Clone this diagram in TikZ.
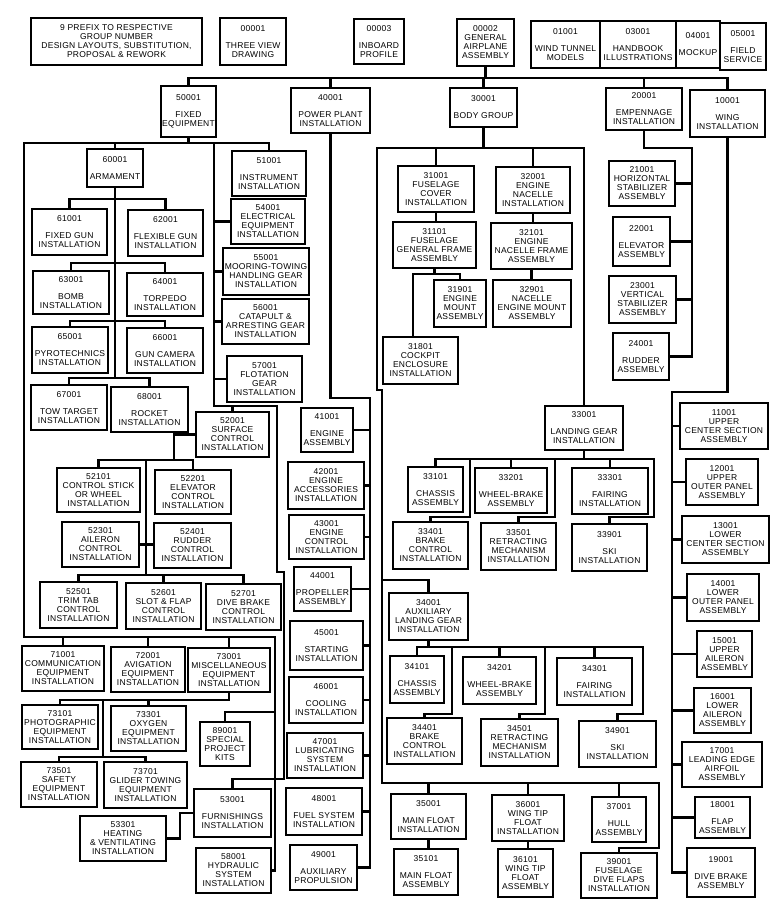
\documentclass[tikz,border=0pt]{standalone}
\usepackage{fontspec}
\setmainfont{Liberation Sans}[LetterSpace=3]
\usetikzlibrary{positioning,calc}

\begin{document}
\begin{tikzpicture}[x=1pt,y=-1pt,
	box/.style 2 args={draw, line width=1.1pt, fill=white, inner sep=1pt, align=center, minimum width=#1pt, minimum height=#2pt, font=\fontsize{8.5}{9}\selectfont},
	link/.style={line width=2.8pt, line join=miter}]
				\path[use as bounding box, fill=white] (0,0) rectangle (781,905);
				\node[box={171}{47}] (prefix) at (116.5,41.5) {9 PREFIX TO RESPECTIVE\\GROUP NUMBER\\DESIGN LAYOUTS, SUBSTITUTION,\\PROPOSAL \& REWORK};
				\node[box={66}{47}] (n00001) at (253,41.5) {00001\\[8pt]THREE VIEW\\DRAWING};
				\node[box={50}{45}] (n00003) at (379,41.5) {00003\\[8pt]INBOARD\\PROFILE};
				\node[box={57}{47}] (n00002) at (485.5,42.5) {00002\\GENERAL\\AIRPLANE\\ASSEMBLY};
				\node[box={69}{47}] (n01001) at (565.5,44.5) {01001\\[8pt]WIND TUNNEL\\MODELS};
				\node[box={76}{47}] (n03001) at (638,44.5) {03001\\[8pt]HANDBOOK\\ILLUSTRATIONS};
				\node[box={44}{47}] (n04001) at (698,44.5) {04001\\[8pt]MOCKUP};
				\node[box={46}{47}] (n05001) at (743,46.5) {05001\\[8pt]FIELD\\SERVICE};
				\node[box={55}{51}] (n50001) at (188.5,111.5) {50001\\[8pt]FIXED\\EQUIPMENT};
				\node[box={79}{45}] (n40001) at (330.5,110.5) {40001\\[8pt]POWER PLANT\\INSTALLATION};
				\node[box={67}{39}] (n30001) at (483.5,107.5) {30001\\[8pt]BODY GROUP};
				\node[box={76}{42}] (n20001) at (644,109) {20001\\[8pt]EMPENNAGE\\INSTALLATION};
				\node[box={75}{47}] (n10001) at (727.5,113.5) {10001\\[8pt]WING\\INSTALLATION};
				\node[box={56}{38}] (n60001) at (115,168) {60001\\[8pt]ARMAMENT};
				\node[box={75}{46}] (n61001) at (69.5,232) {61001\\[8pt]FIXED GUN\\INSTALLATION};
				\node[box={75}{46}] (n62001) at (165.5,233) {62001\\[8pt]FLEXIBLE GUN\\INSTALLATION};
				\node[box={76}{43}] (n63001) at (71,292.5) {63001\\[8pt]BOMB\\INSTALLATION};
				\node[box={76}{43}] (n64001) at (165,294.5) {64001\\[8pt]TORPEDO\\INSTALLATION};
				\node[box={76}{46}] (n65001) at (70,350) {65001\\[8pt]PYROTECHNICS\\INSTALLATION};
				\node[box={76}{45}] (n66001) at (165,350.5) {66001\\[8pt]GUN CAMERA\\INSTALLATION};
				\node[box={76}{45}] (n67001) at (69,407.5) {67001\\[8pt]TOW TARGET\\INSTALLATION};
				\node[box={77}{45}] (n68001) at (149.5,409.5) {68001\\[8pt]ROCKET\\INSTALLATION};
				\node[box={74}{45}] (n51001) at (269,173.5) {51001\\[8pt]INSTRUMENT\\INSTALLATION};
				\node[box={74}{45}] (n54001) at (268,221.5) {54001\\ELECTRICAL\\EQUIPMENT\\INSTALLATION};
				\node[box={86}{47}] (n55001) at (266,271.5) {55001\\MOORING-TOWING\\HANDLING GEAR\\INSTALLATION};
				\node[box={87}{45}] (n56001) at (265.5,321.5) {56001\\CATAPULT \&\\ARRESTING GEAR\\INSTALLATION};
				\node[box={75}{46}] (n57001) at (264.5,379) {57001\\FLOTATION\\GEAR\\INSTALLATION};
				\node[box={73}{45}] (n52001) at (232.5,434.5) {52001\\SURFACE\\CONTROL\\INSTALLATION};
				\node[box={83}{44}] (n52101) at (98.5,490) {52101\\CONTROL STICK\\OR WHEEL\\INSTALLATION};
				\node[box={76}{44}] (n52201) at (193,492) {52201\\ELEVATOR\\CONTROL\\INSTALLATION};
				\node[box={77}{45}] (n52301) at (100.5,544.5) {52301\\AILERON\\CONTROL\\INSTALLATION};
				\node[box={77}{45}] (n52401) at (192.5,545.5) {52401\\RUDDER\\CONTROL\\INSTALLATION};
				\node[box={77}{46}] (n52501) at (78.5,605) {52501\\TRIM TAB\\CONTROL\\INSTALLATION};
				\node[box={75}{46}] (n52601) at (163.5,606) {52601\\SLOT \& FLAP\\CONTROL\\INSTALLATION};
				\node[box={75}{46}] (n52701) at (243.5,607) {52701\\DIVE BRAKE\\CONTROL\\INSTALLATION};
				\node[box={82}{45}] (n71001) at (63,668.5) {71001\\COMMUNICATION\\EQUIPMENT\\INSTALLATION};
				\node[box={74}{45}] (n72001) at (148,669.5) {72001\\AVIGATION\\EQUIPMENT\\INSTALLATION};
				\node[box={82}{44}] (n73001) at (229,670) {73001\\MISCELLANEOUS\\EQUIPMENT\\INSTALLATION};
				\node[box={76}{44}] (n73101) at (60,727) {73101\\PHOTOGRAPHIC\\EQUIPMENT\\INSTALLATION};
				\node[box={75}{45}] (n73301) at (148.5,728.5) {73301\\OXYGEN\\EQUIPMENT\\INSTALLATION};
				\node[box={76}{45}] (n73501) at (59,784.5) {73501\\SAFETY\\EQUIPMENT\\INSTALLATION};
				\node[box={83}{46}] (n73701) at (145.5,785) {73701\\GLIDER TOWING\\EQUIPMENT\\INSTALLATION};
				\node[box={50}{44}] (n89001) at (225,744) {89001\\SPECIAL\\PROJECT\\KITS};
				\node[box={77}{48}] (n53001) at (232.5,813) {53001\\[8pt]FURNISHINGS\\INSTALLATION};
				\node[box={86}{45}] (n53301) at (123,838.5) {53301\\HEATING\\\& VENTILATING\\INSTALLATION};
				\node[box={75}{45}] (n58001) at (233.5,870.5) {58001\\HYDRAULIC\\SYSTEM\\INSTALLATION};
				\node[box={52}{44}] (n41001) at (327,430) {41001\\[8pt]ENGINE\\ASSEMBLY};
				\node[box={76}{47}] (n42001) at (326,485.5) {42001\\ENGINE\\ACCESSORIES\\INSTALLATION};
				\node[box={75}{44}] (n43001) at (326.5,537) {43001\\ENGINE\\CONTROL\\INSTALLATION};
				\node[box={57}{44}] (n44001) at (322.5,589) {44001\\[8pt]PROPELLER\\ASSEMBLY};
				\node[box={73}{49}] (n45001) at (326.5,645.5) {45001\\[8pt]STARTING\\INSTALLATION};
				\node[box={74}{46}] (n46001) at (326,700) {46001\\[8pt]COOLING\\INSTALLATION};
				\node[box={76}{45}] (n47001) at (325,755.5) {47001\\LUBRICATING\\SYSTEM\\INSTALLATION};
				\node[box={76}{47}] (n48001) at (324,811.5) {48001\\[8pt]FUEL SYSTEM\\INSTALLATION};
				\node[box={67}{45}] (n49001) at (323.5,867.5) {49001\\[8pt]AUXILIARY\\PROPULSION};
				\node[box={76}{46}] (n31001) at (436,189) {31001\\FUSELAGE\\COVER\\INSTALLATION};
				\node[box={83}{46}] (n31101) at (434.5,245) {31101\\FUSELAGE\\GENERAL FRAME\\ASSEMBLY};
				\node[box={52}{47}] (n31901) at (460,303.5) {31901\\ENGINE\\MOUNT\\ASSEMBLY};
				\node[box={75}{47}] (n31801) at (420.5,360.5) {31801\\COCKPIT\\ENCLOSURE\\INSTALLATION};
				\node[box={74}{46}] (n32001) at (533,190) {32001\\ENGINE\\NACELLE\\INSTALLATION};
				\node[box={81}{46}] (n32101) at (531.5,246) {32101\\ENGINE\\NACELLE FRAME\\ASSEMBLY};
				\node[box={78}{47}] (n32901) at (532,303.5) {32901\\NACELLE\\ENGINE MOUNT\\ASSEMBLY};
				\node[box={78}{44}] (n33001) at (584,428) {33001\\[8pt]LANDING GEAR\\INSTALLATION};
				\node[box={55}{45}] (n33101) at (435.5,489.5) {33101\\[8pt]CHASSIS\\ASSEMBLY};
				\node[box={72}{45}] (n33201) at (511,490.5) {33201\\[8pt]WHEEL-BRAKE\\ASSEMBLY};
				\node[box={76}{46}] (n33301) at (610,491) {33301\\[8pt]FAIRING\\INSTALLATION};
				\node[box={75}{47}] (n33401) at (430.5,545.5) {33401\\BRAKE\\CONTROL\\INSTALLATION};
				\node[box={75}{47}] (n33501) at (518.5,546.5) {33501\\RETRACTING\\MECHANISM\\INSTALLATION};
				\node[box={75}{47}] (n33901) at (609.5,547.5) {33901\\[8pt]SKI\\INSTALLATION};
				\node[box={79}{47}] (n34001) at (428.5,616.5) {34001\\AUXILIARY\\LANDING GEAR\\INSTALLATION};
				\node[box={54}{47}] (n34101) at (417,679.5) {34101\\[8pt]CHASSIS\\ASSEMBLY};
				\node[box={73}{47}] (n34201) at (499.5,680.5) {34201\\[8pt]WHEEL-BRAKE\\ASSEMBLY};
				\node[box={75}{47}] (n34301) at (594.5,681.5) {34301\\[8pt]FAIRING\\INSTALLATION};
				\node[box={75}{46}] (n34401) at (424.5,741) {34401\\BRAKE\\CONTROL\\INSTALLATION};
				\node[box={77}{47}] (n34501) at (519.5,742.5) {34501\\RETRACTING\\MECHANISM\\INSTALLATION};
				\node[box={77}{46}] (n34901) at (617.5,744) {34901\\[8pt]SKI\\INSTALLATION};
				\node[box={75}{45}] (n35001) at (428.5,816.5) {35001\\[8pt]MAIN FLOAT\\INSTALLATION};
				\node[box={64}{46}] (n35101) at (426,872) {35101\\[8pt]MAIN FLOAT\\ASSEMBLY};
				\node[box={72}{46}] (n36001) at (528,818) {36001\\WING TIP\\FLOAT\\INSTALLATION};
				\node[box={55}{48}] (n36101) at (525.5,873) {36101\\WING TIP\\FLOAT\\ASSEMBLY};
				\node[box={54}{45}] (n37001) at (619,819.5) {37001\\[8pt]HULL\\ASSEMBLY};
				\node[box={76}{45}] (n39001) at (619,875.5) {39001\\FUSELAGE\\DIVE FLAPS\\INSTALLATION};
				\node[box={66}{45}] (n21001) at (642,183.5) {21001\\HORIZONTAL\\STABILIZER\\ASSEMBLY};
				\node[box={57}{49}] (n22001) at (641.5,241.5) {22001\\[8pt]ELEVATOR\\ASSEMBLY};
				\node[box={67}{47}] (n23001) at (642.5,299.5) {23001\\VERTICAL\\STABILIZER\\ASSEMBLY};
				\node[box={56}{47}] (n24001) at (641,356.5) {24001\\[8pt]RUDDER\\ASSEMBLY};
				\node[box={88}{46}] (n11001) at (724,426) {11001\\UPPER\\CENTER SECTION\\ASSEMBLY};
				\node[box={72}{46}] (n12001) at (722,482) {12001\\UPPER\\OUTER PANEL\\ASSEMBLY};
				\node[box={87}{47}] (n13001) at (725.5,539.5) {13001\\LOWER\\CENTER SECTION\\ASSEMBLY};
				\node[box={72}{47}] (n14001) at (723,597.5) {14001\\LOWER\\OUTER PANEL\\ASSEMBLY};
				\node[box={55}{46}] (n15001) at (724.5,654) {15001\\UPPER\\AILERON\\ASSEMBLY};
				\node[box={57}{45}] (n16001) at (722.5,710.5) {16001\\LOWER\\AILERON\\ASSEMBLY};
				\node[box={80}{45}] (n17001) at (722,764.5) {17001\\LEADING EDGE\\AIRFOIL\\ASSEMBLY};
				\node[box={55}{41}] (n18001) at (722.5,817.5) {18001\\[8pt]FLAP\\ASSEMBLY};
				\node[box={68}{49}] (n19001) at (721,872.5) {19001\\[8pt]DIVE BRAKE\\ASSEMBLY};
				\coordinate (mainbus) at (0,78);
				\coordinate (febus) at (0,143);
				\coordinate (railA) at (24,0);
				\coordinate (railB) at (214,0);
				\coordinate (eqbus) at (0,637);
				\coordinate (railC) at (275,0);
				\coordinate (sc1) at (214,406);
				\coordinate (sc2) at (277,406);
				\coordinate (sc3) at (277,572);
				\coordinate (sc4) at (284,572);
				\coordinate (sc5) at (284,779);
				\coordinate (arbus1) at (0,199);
				\coordinate (arbus2) at (0,263);
				\coordinate (arbus3) at (0,321);
				\coordinate (arbus4) at (0,378);
				\coordinate (scx) at (174,0);
				\coordinate (scbus) at (0,460);
				\coordinate (scrail) at (146,0);
				\coordinate (scbus2) at (0,575);
				\coordinate (msbus1) at (0,700);
				\coordinate (msbus2) at (0,757);
				\coordinate (msrail) at (103,0);
				\coordinate (spbus) at (0,712);
				\coordinate (htrail) at (180,0);
				\coordinate (ppbus) at (0,398);
				\coordinate (railD) at (370,0);
				\coordinate (bgbus) at (0,148);
				\coordinate (railE) at (377,0);
				\coordinate (jog) at (0,390);
				\coordinate (railE2) at (382,0);
				\coordinate (flbus) at (0,783);
				\coordinate (flrail) at (659,0);
				\coordinate (hubus) at (0,848);
				\coordinate (fbbus) at (0,274);
				\coordinate (ckrail) at (413,0);
				\coordinate (lgbus) at (0,459);
				\coordinate (lgbus2) at (0,517);
				\coordinate (lgrail) at (654,0);
				\coordinate (lga) at (470,0);
				\coordinate (lgb) at (555,0);
				\coordinate (albus) at (0,580);
				\coordinate (agbus) at (0,647);
				\coordinate (agbus2) at (0,714);
				\coordinate (agrail) at (643,0);
				\coordinate (aga) at (452,0);
				\coordinate (agb) at (545,0);
				\coordinate (embus) at (0,148);
				\coordinate (railG) at (692,0);
				\coordinate (wgbus) at (0,392);
				\coordinate (railH) at (672,0);
				\draw[link] (n00002.south) -- (n00002.south |- mainbus);
				\draw[link] (n50001.north) -- (n50001.north |- mainbus) -- (n10001.north |- mainbus) -- (n10001.north);
				\draw[link] (n40001.north) -- (n40001.north |- mainbus);
				\draw[link] (n30001.north) -- (n30001.north |- mainbus);
				\draw[link] (n20001.north) -- (n20001.north |- mainbus);
				\draw[link] (n50001.south) -- (n50001.south |- febus);
				\draw[link] (n51001.north) -- (n51001.north |- febus) -- (railA |- febus) -- (railA |- eqbus) -- (railC |- eqbus) -- (railC |- n58001.east) -- (n58001.east);
				\draw[link] (n60001.north) -- (n60001.north |- febus);
				\draw[link] (railB |- febus) -- (sc1) -- (sc2) -- (sc3) -- (sc4) -- (sc5) -- (n53001.north |- sc5) -- (n53001.north);
				\draw[link] (n54001.west) -- (railB |- n54001.west);
				\draw[link] (n55001.west) -- (railB |- n55001.west);
				\draw[link] (n56001.west) -- (railB |- n56001.west);
				\draw[link] (n57001.west) -- (railB |- n57001.west);
				\draw[link] (n52001.north) -- (n52001.north |- sc1);
				\draw[link] (n60001.south) -- (n60001.south |- arbus4);
				\draw[link] (n61001.north) -- (n61001.north |- arbus1) -- (n62001.north |- arbus1) -- (n62001.north);
				\draw[link] (n63001.north) -- (n63001.north |- arbus2) -- (n64001.north |- arbus2) -- (n64001.north);
				\draw[link] (n65001.north) -- (n65001.north |- arbus3) -- (n66001.north |- arbus3) -- (n66001.north);
				\draw[link] (n67001.north) -- (n67001.north |- arbus4) -- (n68001.north |- arbus4) -- (n68001.north);
				\draw[link] (n52001.west) -- (scx |- n52001.west) -- (scx |- scbus);
				\draw[link] (n52101.north) -- (n52101.north |- scbus) -- (n52201.north |- scbus) -- (n52201.north);
				\draw[link] (scrail |- scbus) -- (scrail |- scbus2);
				\draw[link] (n52301.east) -- (n52401.west |- n52301.east);
				\draw[link] (n52501.north) -- (n52501.north |- scbus2) -- (n52701.north |- scbus2) -- (n52701.north);
				\draw[link] (n52601.north) -- (n52601.north |- scbus2);
				\draw[link] (n71001.north) -- (n71001.north |- eqbus);
				\draw[link] (n72001.north) -- (n72001.north |- eqbus);
				\draw[link] (n73001.north) -- (n73001.north |- eqbus);
				\draw[link] (n73001.south) -- (n73001.south |- msbus1) -- (n73101.north |- msbus1) -- (n73101.north);
				\draw[link] (n73301.north) -- (n73301.north |- msbus1);
				\draw[link] (msrail |- msbus1) -- (msrail |- msbus2);
				\draw[link] (n73501.north) -- (n73501.north |- msbus2) -- (n73701.north |- msbus2) -- (n73701.north);
				\draw[link] (railC |- spbus) -- (n89001.north |- spbus) -- (n89001.north);
				\draw[link] (n53301.east) -- (htrail |- n53301.east) -- (htrail |- n53001.west) -- (n53001.west);
				\draw[link] (n40001.south) -- (n40001.south |- ppbus) -- (railD |- ppbus) -- (railD |- n49001.east) -- (n49001.east);
				\draw[link] (n41001.east) -- (railD |- n41001.east);
				\draw[link] (n42001.east) -- (railD |- n42001.east);
				\draw[link] (n43001.east) -- (railD |- n43001.east);
				\draw[link] (n44001.east) -- (railD |- n44001.east);
				\draw[link] (n45001.east) -- (railD |- n45001.east);
				\draw[link] (n46001.east) -- (railD |- n46001.east);
				\draw[link] (n47001.east) -- (railD |- n47001.east);
				\draw[link] (n48001.east) -- (railD |- n48001.east);
				\draw[link] (n30001.south) -- (n30001.south |- bgbus);
				\draw[link] (n33001.north) -- (n33001.north |- bgbus) -- (railE |- bgbus) -- (railE |- jog) -- (railE2 |- jog) -- (railE2 |- flbus) -- (flrail |- flbus) -- (flrail |- hubus) -- (n39001.north |- hubus) -- (n39001.north);
				\draw[link] (n31001.north) -- (n31001.north |- bgbus);
				\draw[link] (n32001.north) -- (n32001.north |- bgbus);
				\draw[link] (n31001.south) -- (n31001.south |- n31101.north);
				\draw[link] (n31101.south) -- (n31101.south |- fbbus);
				\draw[link] (n31901.north) -- (n31901.north |- fbbus) -- (ckrail |- fbbus) -- (ckrail |- n31801.north);
				\draw[link] (n32001.south) -- (n32001.south |- n32101.north);
				\draw[link] (n32101.south) -- (n32101.south |- n32901.north);
				\draw[link] (n33001.south) -- (n33001.south |- lgbus);
				\draw[link] (n33101.north) -- (n33101.north |- lgbus) -- (lgrail |- lgbus) -- (lgrail |- lgbus2) -- (n33901.north |- lgbus2) -- (n33901.north);
				\draw[link] (n33201.north) -- (n33201.north |- lgbus);
				\draw[link] (n33301.north) -- (n33301.north |- lgbus);
				\draw[link] (lga |- lgbus) -- (lga |- lgbus2) -- (n33401.north |- lgbus2) -- (n33401.north);
				\draw[link] (lgb |- lgbus) -- (lgb |- lgbus2) -- (n33501.north |- lgbus2) -- (n33501.north);
				\draw[link] (railE2 |- albus) -- (n34001.north |- albus) -- (n34001.north);
				\draw[link] (n34001.south) -- (n34001.south |- agbus);
				\draw[link] (n34101.north) -- (n34101.north |- agbus) -- (agrail |- agbus) -- (agrail |- agbus2) -- (n34901.north |- agbus2) -- (n34901.north);
				\draw[link] (n34201.north) -- (n34201.north |- agbus);
				\draw[link] (n34301.north) -- (n34301.north |- agbus);
				\draw[link] (aga |- agbus) -- (aga |- agbus2) -- (n34401.north |- agbus2) -- (n34401.north);
				\draw[link] (agb |- agbus) -- (agb |- agbus2) -- (n34501.north |- agbus2) -- (n34501.north);
				\draw[link] (n35001.north) -- (n35001.north |- flbus);
				\draw[link] (n36001.north) -- (n36001.north |- flbus);
				\draw[link] (n37001.north) -- (n37001.north |- flbus);
				\draw[link] (n35001.south) -- (n35001.south |- n35101.north);
				\draw[link] (n36001.south) -- (n36001.south |- n36101.north);
				\draw[link] (n20001.south) -- (n20001.south |- embus) -- (railG |- embus) -- (railG |- n24001.east) -- (n24001.east);
				\draw[link] (n21001.east) -- (railG |- n21001.east);
				\draw[link] (n22001.east) -- (railG |- n22001.east);
				\draw[link] (n23001.east) -- (railG |- n23001.east);
				\draw[link] (n10001.south) -- (n10001.south |- wgbus) -- (railH |- wgbus) -- (railH |- n19001.west) -- (n19001.west);
				\draw[link] (n11001.west) -- (railH |- n11001.west);
				\draw[link] (n12001.west) -- (railH |- n12001.west);
				\draw[link] (n13001.west) -- (railH |- n13001.west);
				\draw[link] (n14001.west) -- (railH |- n14001.west);
				\draw[link] (n15001.west) -- (railH |- n15001.west);
				\draw[link] (n16001.west) -- (railH |- n16001.west);
				\draw[link] (n17001.west) -- (railH |- n17001.west);
				\draw[link] (n18001.west) -- (railH |- n18001.west);
				\end{tikzpicture}
\end{document}
